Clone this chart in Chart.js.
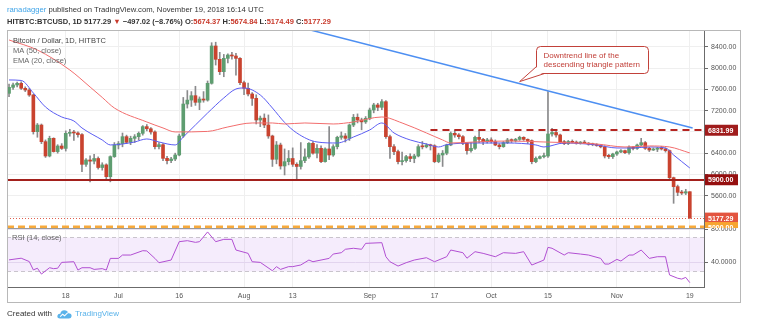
<!DOCTYPE html>
<html>
<head>
<meta charset="utf-8">
<title>HITBTC:BTCUSD 1D</title>
<script src="https://cdn.jsdelivr.net/npm/chart.js@4.4.1/dist/chart.umd.min.js"></script>
<style>
  html, body { margin: 0; padding: 0; background: #fff; }
  #wrap { position: relative; width: 761px; height: 327px; overflow: hidden;
          font-family: "Liberation Sans", Arial, sans-serif; }
  #chart { position: absolute; left: 0; top: 0; }
  .hdr { position: absolute; left: 7px; white-space: nowrap; font-size: 7.7px; color: #333; line-height: 10px; }
  .hdr .user { color: #3fa4e8; }
  .hdr.sym { font-weight: bold; font-size: 7.5px; color: #333; }
  .dn { color: #c8392b; }
  .ftr { position: absolute; left: 7px; top: 309px; font-size: 8px; color: #333; white-space: nowrap; line-height: 10px; }
  .ftr svg { position: absolute; left: 50px; top: 0px; }
  .ftr .tv { position: absolute; left: 68px; top: 0; color: #5ab3ea; }
</style>
</head>
<body>
<div id="wrap">
  <canvas id="chart" width="761" height="327"></canvas>
  <div class="hdr" style="top:5px"><span class="user">ranadagger</span> published on TradingView.com, November 19, 2018 16:14 UTC</div>
  <div class="hdr sym" style="top:17px">HITBTC:BTCUSD, 1D 5177.29 <span class="dn">▼</span> −497.02 (−8.76%) O:<span class="dn">5674.37</span> H:<span class="dn">5674.84</span> L:<span class="dn">5174.49</span> C:<span class="dn">5177.29</span></div>
  <div class="ftr">Created with
    <svg width="15" height="10" viewBox="0 0 15 10">
      <path d="M3 9.5 Q0 9.5 0.4 6.8 Q0.9 4.6 3.2 4.9 Q3.8 1.4 7.2 1.2 Q10.6 1.2 11.4 4.3 Q14.8 4.3 14.6 7.2 Q14.3 9.5 11.8 9.5 Z" fill="#5ab3ea"/>
      <path d="M3.2 7.6 L5.6 5.2 L7.6 6.8 L10.8 3.6" stroke="#fff" stroke-width="1.1" fill="none"/>
    </svg>
    <span class="tv">TradingView</span></div>
</div>

<script>
// Daily candles, 4 Jun 2018 .. 19 Nov 2018 (index 0 = 4 Jun)
const OPEN = [
  7527,7640,7685,7715,7622,7590,7496,6805,6930,6617,
  6347,6680,6430,6535,6490,6774,6790,6780,6750,6190,
  6272,6250,6300,6130,6180,5958,6335,6554,6580,6711,
  6605,6680,6711,6774,6900,6860,6800,6523,6560,6303,
  6260,6290,6366,6724,7326,7400,7483,7358,7420,7400,
  7716,8419,8168,7935,8186,8249,8230,8186,7728,7622,
  7515,7433,7025,7060,6931,6724,6285,6554,6159,6240,
  6300,6190,6150,6260,6330,6586,6400,6492,6241,6480,
  6366,6523,6699,6724,6680,6931,7076,7025,6990,7056,
  7213,7308,7264,7370,6711,6523,6430,6241,6260,6335,
  6300,6347,6523,6520,6554,6540,6241,6366,6400,6554,
  6774,6743,6711,6586,6448,6492,6699,6660,6617,6650,
  6617,6554,6523,6598,6649,6637,6660,6699,6660,6637,
  6241,6303,6335,6347,6762,6790,6743,6617,6580,6620,
  6605,6590,6600,6590,6570,6560,6545,6520,6360,6335,
  6385,6423,6448,6410,6511,6490,6554,6598,6492,6460,
  6475,6492,6480,6448,5939,5770,5663,5650,5674.37
];
const HIGH = [
  7700,7720,7740,7745,7650,7620,7510,6960,6950,6650,
  6720,6690,6560,6580,6820,6850,6830,6800,6770,6300,
  6350,6380,6330,6220,6200,6350,6600,6620,6780,6740,
  6720,6750,6800,6920,6940,6880,6820,6600,6580,6340,
  6320,6400,6760,7450,7580,7560,7660,7460,7560,7760,
  8481,8490,8300,8260,8270,8300,8280,8200,7760,7720,
  7540,7500,7100,7140,7120,6740,6620,6590,6480,6450,
  6500,6220,6600,6480,6600,6620,6560,6540,6500,6900,
  6560,6720,6800,6770,6950,7130,7140,7060,7090,7250,
  7340,7340,7410,7390,6740,6560,6460,6420,6360,6390,
  6380,6560,6620,6580,6570,6560,6400,6450,6570,6800,
  6840,6770,6730,6600,6600,6720,6830,6680,6680,6690,
  6650,6580,6620,6680,6670,6680,6720,6710,6670,6650,
  6330,6350,6400,7559,6870,6810,6760,6640,6640,6650,
  6630,6620,6640,6600,6590,6580,6560,6540,6380,6400,
  6440,6470,6460,6540,6530,6570,6680,6620,6510,6500,
  6510,6530,6500,6460,5950,5800,5700,5720,5674.84
];
const LOW = [
  7465,7600,7650,7600,7560,7470,6760,6700,6580,6320,
  6330,6420,6400,6470,6440,6720,6640,6700,6050,6150,
  5860,6200,6100,6080,5920,5860,6320,6480,6520,6580,
  6560,6600,6650,6740,6820,6760,6480,6480,6260,6200,
  6220,6260,6350,6700,7250,7280,7300,7220,7360,7380,
  7700,8060,7880,7840,8100,8170,7870,7690,7500,7480,
  7300,6950,6900,6880,6680,6150,6200,6100,5990,6180,
  6150,5910,6100,6220,6300,6380,6310,6220,6230,6280,
  6340,6480,6660,6610,6640,6900,6970,6840,6960,7030,
  7160,7200,7220,6680,6300,6370,6200,6180,6230,6240,
  6220,6330,6480,6500,6460,6220,6220,6150,6370,6540,
  6700,6670,6560,6380,6420,6470,6600,6560,6590,6590,
  6540,6480,6510,6580,6600,6610,6640,6640,6580,6200,
  6220,6290,6310,6320,6720,6700,6590,6560,6560,6590,
  6570,6570,6580,6550,6540,6530,6500,6310,6300,6300,
  6360,6410,6390,6380,6460,6470,6540,6470,6430,6450,
  6430,6460,6420,5900,5456,5600,5620,5620,5174.49
];
const CLOSE = [
  7640,7685,7715,7622,7590,7496,6805,6930,6617,6347,
  6680,6430,6535,6490,6774,6790,6780,6750,6190,6272,
  6250,6300,6130,6180,5958,6335,6554,6580,6711,6605,
  6680,6711,6774,6900,6860,6800,6523,6560,6303,6260,
  6290,6366,6724,7326,7400,7483,7358,7420,7400,7716,
  8419,8168,7935,8186,8249,8230,8186,7728,7622,7515,
  7433,7025,7060,6931,6724,6285,6554,6159,6240,6300,
  6190,6150,6260,6330,6586,6400,6492,6241,6480,6366,
  6523,6699,6724,6680,6931,7076,7025,6990,7056,7213,
  7308,7264,7370,6711,6523,6430,6241,6260,6335,6300,
  6347,6523,6520,6554,6540,6241,6366,6400,6554,6774,
  6743,6711,6586,6448,6492,6699,6660,6617,6650,6617,
  6554,6523,6598,6649,6637,6660,6699,6660,6637,6241,
  6303,6335,6347,6762,6790,6743,6617,6580,6620,6605,
  6590,6600,6590,6570,6560,6545,6520,6347,6335,6385,
  6423,6448,6410,6511,6490,6554,6598,6492,6460,6475,
  6492,6480,6448,5939,5770,5663,5650,5674.37,5177.29
];

// indicator readings [day index, value]
const MA50 = [
  [0,8532],[7,8343],[15,7967],[20,7647],[23,7450],[26,7251],[34,6988],[38,6875],
  [41,6800],[49,6810],[54,6894],[60,6969],[65,6969],[68,6950],[73,6969],[80,6950],
  [85,6988],[92,7082],[97,6969],[103,6781],[107,6649],[109,6592],[115,6611],[123,6630],
  [132,6611],[137,6600],[145,6573],[152,6517],[158,6536],[163,6517],[168,6404]
];
const EMA20 = [
  [0,7779],[3,7770],[6,7534],[9,7270],[13,7082],[16,7007],[18,6875],[23,6649],
  [25,6555],[28,6573],[31,6611],[34,6668],[37,6611],[41,6555],[43,6705],[46,6931],
  [49,7157],[53,7440],[56,7609],[58,7628],[62,7496],[65,7251],[68,6980],[71,6781],
  [76,6611],[81,6592],[85,6705],[89,6837],[92,6969],[95,6781],[99,6649],[103,6573],
  [106,6517],[108,6560],[115,6592],[123,6592],[130,6555],[132,6517],[137,6592],[145,6555],
  [150,6498],[154,6498],[158,6517],[162,6498],[164,6366],[168,6121]
];
const RSI14 = [
  [0,43],[3,45],[5,41],[6,31],[7,33],[8,26],[10,33.6],[11,32.5],[12,33],[13,40],
  [16,40.8],[17,30.8],[18,33.6],[20,33.6],[21,31.6],[23,32.5],[24,30.8],[25,44.8],[27,44.8],[28,48.8],
  [30,48.8],[33,54],[34,53.7],[36,44.8],[37,39.6],[40,42.8],[42,64.8],[44,66],[46,64],[47,64.8],
  [49,76.5],[51,64.8],[53,67.6],[55,67.6],[56,54.8],[59,50.8],[60,40.8],[62,40],[65,30],[66,34.9],
  [67,31.6],[69,34.9],[70,34.9],[72,36.9],[74,42.8],[75,40.8],[77,42.8],[79,44.8],[80,50],[82,51.6],
  [83,55.7],[85,56.9],[87,55.7],[88,62.8],[92,63.6],[93,46.8],[94,40.8],[96,35.6],[98,39.6],[100,42.8],
  [103,45.6],[105,40.8],[108,46.8],[109,54.8],[112,51.6],[113,45],[115,52.8],[117,50.8],[120,46.8],[122,51.6],
  [125,50.8],[127,52.8],[129,36.8],[132,42.8],[133,58],[134,56.9],[137,48.8],[138,51.6],[141,50],[143,48.8],
  [146,44.8],[147,38],[148,38],[150,43.6],[151,41.6],[153,48.8],[154,48.8],[156,54.8],[158,44.8],[160,46.8],
  [162,46.8],[163,24.9],[165,21],[166,20],[167,22],[168,15.7]
];

// axis ticks
const TICK_IDX  = [14, 27, 42, 58, 70, 89, 105, 119, 133, 150, 168];
const TICK_TEXT = ['18', 'Jul', '16', 'Aug', '13', 'Sep', '17', 'Oct', '15', 'Nov', '19'];
const PRICE_TICKS = [5200, 5600, 6000, 6400, 6800, 7200, 7600, 8000, 8400];
const RSI_TICKS = [40, 80];
const RSI_BAND = [30, 70];

// drawn levels
const RESISTANCE = 6831.99;
const RESISTANCE_FROM = 104;
const SUPPORT = 5900;
const LAST_PRICE = 5177.29;
const ZONE = 5000;
const TREND_X = [74.4, 168.7];
const TREND_Y = [8720, 6875];
const NOTE_AT = 126;
const NOTE_LINES = ['Downtrend line of the', 'descending triangle pattern'];

const FONT = '"Liberation Sans", Arial, sans-serif';
const UP_FILL = '#5e9d70', UP_EDGE = '#467f58';
const DN_FILL = '#c9432f', DN_EDGE = '#a1301f';

const pts = pairs => pairs.map(([i, v]) => ({ x: i, y: v }));
const isUp = i => CLOSE[i] >= OPEN[i];

const wicks = LOW.map((l, i) => ({ x: i, y: [l, HIGH[i]] }));
const bodies = OPEN.map((o, i) => ({ x: i, y: [o, CLOSE[i]] }));

function hline(ctx, a, py, from) {
    ctx.beginPath();
    ctx.moveTo(from !== undefined ? from : a.left, py);
    ctx.lineTo(a.right, py);
    ctx.stroke();
}

const overlays = {
    id: 'overlays',
    beforeDatasetsDraw(chart) {
        const { ctx, chartArea: a } = chart;
        const rsi = chart.scales.rsi;
        const y70 = Math.round(rsi.getPixelForValue(RSI_BAND[1])) + 0.5;
        const y30 = Math.round(rsi.getPixelForValue(RSI_BAND[0])) + 0.5;
        ctx.save();
        ctx.fillStyle = 'rgba(196, 140, 240, 0.17)';
        ctx.fillRect(a.left, y70, a.width, y30 - y70);
        ctx.strokeStyle = '#c9c4cc';
        ctx.lineWidth = 1;
        ctx.setLineDash([4, 3]);
        hline(ctx, a, y70);
        hline(ctx, a, y30);
        ctx.restore();
    },
    afterDatasetsDraw(chart) {
        const { ctx, chartArea: a } = chart;
        const { x, y, rsi } = chart.scales;
        const py = v => Math.round(y.getPixelForValue(v)) + 0.5;
        ctx.save();

        // support / resistance and price lines
        ctx.lineWidth = 2;
        ctx.strokeStyle = '#a3201c';
        hline(ctx, a, Math.round(y.getPixelForValue(SUPPORT)));
        ctx.setLineDash([7, 5]);
        ctx.strokeStyle = '#b52521';
        hline(ctx, a, Math.round(y.getPixelForValue(RESISTANCE)), x.getPixelForValue(RESISTANCE_FROM));
        ctx.lineWidth = 1;
        ctx.setLineDash([1, 2]);
        ctx.strokeStyle = '#e0604e';
        hline(ctx, a, py(LAST_PRICE));
        ctx.lineWidth = 3;
        ctx.setLineDash([7, 4]);
        ctx.strokeStyle = '#f7aa3c';
        hline(ctx, a, Math.round(y.getPixelForValue(ZONE)) - 1);
        ctx.setLineDash([]);

        // pane separator and frame
        ctx.lineWidth = 1;
        ctx.strokeStyle = '#9a9a9a';
        ctx.beginPath();
        ctx.moveTo(a.left, Math.round(y.bottom) + 0.5);
        ctx.lineTo(a.right, Math.round(y.bottom) + 0.5);
        ctx.stroke();
        ctx.strokeStyle = '#b8b8b8';
        ctx.strokeRect(a.left + 0.5, a.top + 0.5, 733, 272);

        // price tags on the axis
        ctx.font = 'bold 7px ' + FONT;
        ctx.textBaseline = 'middle';
        const tag = (v, bg) => {
            const cy = y.getPixelForValue(v);
            ctx.save();
            ctx.beginPath();
            ctx.rect(a.right, a.top, 40, y.bottom - a.top);
            ctx.clip();
            ctx.fillStyle = bg;
            ctx.fillRect(a.right + 1, cy - 5.5, 33, 11);
            ctx.fillStyle = '#fff';
            ctx.fillText(v.toFixed(2), a.right + 4, cy + 0.5);
            ctx.restore();
        };
        tag(RESISTANCE, '#a01c1c');
        tag(SUPPORT, '#950f0f');
        tag(LAST_PRICE, '#e3543f');
        tag(ZONE, '#f7a531');

        // legend
        ctx.font = '7.5px ' + FONT;
        ctx.fillStyle = '#444';
        ctx.fillText('Bitcoin / Dollar, 1D, HITBTC', a.left + 6, a.top + 11);
        ctx.fillStyle = '#666';
        ctx.fillText('MA (50, close)', a.left + 6, a.top + 21);
        ctx.fillText('EMA (20, close)', a.left + 6, a.top + 31);
        ctx.fillText('RSI (14, close)', a.left + 5, rsi.top + 10);

        // note pointing at the trend line
        const t = (NOTE_AT - TREND_X[0]) / (TREND_X[1] - TREND_X[0]);
        const tipX = x.getPixelForValue(NOTE_AT);
        const tipY = y.getPixelForValue(TREND_Y[0] + t * (TREND_Y[1] - TREND_Y[0])) - 2;
        const bx = Math.round(tipX + 16) + 0.5, by = Math.round(tipY - 36) + 0.5, bw = 112, bh = 27;
        ctx.fillStyle = '#fff';
        ctx.strokeStyle = '#c2413a';
        ctx.beginPath();
        ctx.roundRect(bx, by, bw, bh, 4);
        ctx.fill();
        ctx.stroke();
        ctx.beginPath();
        ctx.moveTo(bx + 1, by + bh - 7);
        ctx.lineTo(tipX, tipY);
        ctx.lineTo(bx + 8, by + bh - 1);
        ctx.closePath();
        ctx.fill();
        ctx.beginPath();
        ctx.moveTo(bx, by + bh - 7);
        ctx.lineTo(tipX, tipY);
        ctx.lineTo(bx + 8, by + bh);
        ctx.stroke();
        ctx.fillStyle = '#c2413a';
        ctx.font = '8px ' + FONT;
        ctx.fillText(NOTE_LINES[0], bx + 7, by + 9.5);
        ctx.fillText(NOTE_LINES[1], bx + 7, by + 18);

        ctx.restore();
    }
};

const axisText = { color: '#555', font: { size: 7, family: FONT } };

new Chart(document.getElementById('chart'), {
    type: 'bar',
    data: {
        datasets: [
            { type: 'line', label: 'MA (50, close)', data: pts(MA50), yAxisID: 'y',
              borderColor: '#f26d6d', borderWidth: 1, pointRadius: 0, cubicInterpolationMode: 'monotone', order: 0 },
            { type: 'line', label: 'EMA (20, close)', data: pts(EMA20), yAxisID: 'y',
              borderColor: '#5b5df2', borderWidth: 1, pointRadius: 0, cubicInterpolationMode: 'monotone', order: 0 },
            { type: 'line', label: 'trend', data: TREND_X.map((v, i) => ({ x: v, y: TREND_Y[i] })), yAxisID: 'y',
              borderColor: '#4d8ff2', borderWidth: 1.5, pointRadius: 0, order: 0 },
            { type: 'line', label: 'RSI (14, close)', data: pts(RSI14), yAxisID: 'rsi',
              borderColor: '#b14fd2', borderWidth: 1, pointRadius: 0, tension: 0, order: 0 },
            { label: 'wick', data: wicks, yAxisID: 'y', grouped: false, barThickness: 1,
              backgroundColor: '#8a8a8c', order: 2 },
            { label: 'body', data: bodies, yAxisID: 'y', grouped: false, barThickness: 3, minBarLength: 1,
              backgroundColor: bodies.map((_, i) => isUp(i) ? UP_FILL : DN_FILL),
              borderColor: bodies.map((_, i) => isUp(i) ? UP_EDGE : DN_EDGE),
              borderWidth: 0, borderSkipped: false, order: 1 }
        ]
    },
    options: {
        responsive: false,
        animation: false,
        devicePixelRatio: 1,
        events: [],
        layout: { padding: { left: 7, top: 30, right: 21, bottom: 24 } },
        plugins: { legend: { display: false }, tooltip: { enabled: false } },
        scales: {
            x: {
                type: 'linear', min: -0.5, max: 171.5, offset: false,
                grid: { color: '#efefef', drawTicks: false, offset: false },
                border: { color: '#6b6b6b' },
                ticks: { ...axisText, padding: 5, autoSkip: false, maxRotation: 0,
                         callback: v => TICK_TEXT[TICK_IDX.indexOf(v)] ?? '' },
                afterBuildTicks: s => { s.ticks = TICK_IDX.map(v => ({ value: v })); },
                afterFit: s => { s.height = 16; }
            },
            y: {
                position: 'right', stack: 'pane', stackWeight: 198, min: 4991, max: 8720,
                grid: { color: '#efefef', tickColor: '#6b6b6b', tickLength: 4 },
                border: { color: '#6b6b6b' },
                ticks: { ...axisText, padding: 3, callback: v => v.toFixed(2) },
                afterBuildTicks: s => { s.ticks = PRICE_TICKS.map(v => ({ value: v })); },
                afterFit: s => { s.width = 36; }
            },
            rsi: {
                position: 'right', stack: 'pane', stackWeight: 59, min: 10.5, max: 81.2,
                grid: { color: '#e9e3ee', tickColor: '#6b6b6b', tickLength: 4 },
                border: { color: '#6b6b6b' },
                ticks: { ...axisText, padding: 3, callback: v => v.toFixed(4) },
                afterBuildTicks: s => { s.ticks = RSI_TICKS.map(v => ({ value: v })); },
                afterFit: s => { s.width = 36; }
            }
        }
    },
    plugins: [overlays]
});
</script>
</body>
</html>
